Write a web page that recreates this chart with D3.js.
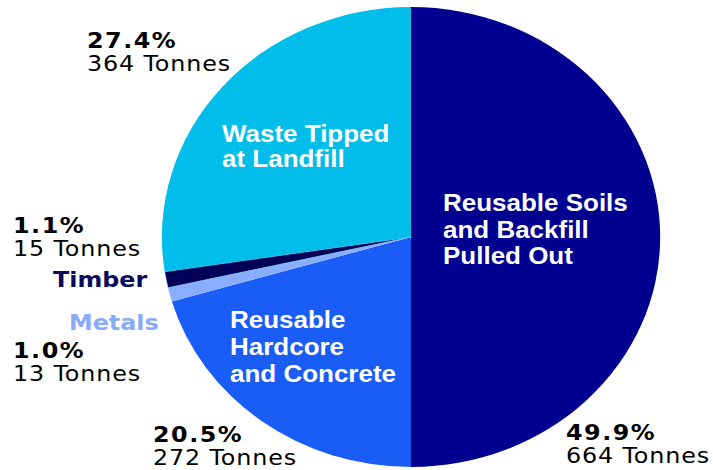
<!DOCTYPE html>
<html>
<head>
<meta charset="utf-8">
<script src="https://cdn.jsdelivr.net/npm/d3@7"></script>
<style>
  html, body { margin: 0; padding: 0; background: #fff; }
  svg { display: block; }
</style>
</head>
<body>
<div id="chart"></div>
<script>
// Waste breakdown pie — slices go clockwise from 12 o'clock

const categories = ['Reusable Soils and Backfill Pulled Out', 'Reusable Hardcore and Concrete', 'Metals', 'Timber', 'Waste Tipped at Landfill'];
const tonnes = [664, 272, 13, 15, 364];
const percents = ['49.9%', '20.5%', '1.0%', '1.1%', '27.4%'];
const sliceColors = ['#000090', '#1a5cf6', '#8aaeff', '#000058', '#00bdea'];

const width = 713;
const height = 470;
const cx = 411, cy = 237;
const radius = 230;
const stretch = 1.083; // picture is a bit wider than tall

const svg = d3.select('#chart')
  .append('svg')
  .attr('width', width)
  .attr('height', height);

const pie = d3.pie().sort(null).value(d => d.value);
const arc = d3.arc().innerRadius(0).outerRadius(radius);

const rows = categories.map((c, i) => ({ name: c, value: tonnes[i], pct: percents[i], color: sliceColors[i] }));

svg.append('g')
  .attr('transform', `translate(${cx},${cy}) scale(${stretch},1)`)
  .selectAll('path')
  .data(pie(rows))
  .join('path')
  .attr('d', arc)
  .attr('fill', d => d.data.color)
  .attr('stroke', d => d.index === 3 ? '#7fd8f4' : 'none')
  .attr('stroke-width', 0.6);

// label placement (left x, baseline y) per slice
const outsideLayout = [
  { x: 566, y: 440 },
  { x: 153, y: 442 },
  { x: 13, y: 358 },
  { x: 13, y: 233 },
  { x: 87, y: 48 }
];
const insideLayout = [
  { x: 443, y: 211, lines: ['Reusable Soils', 'and Backfill', 'Pulled Out'], step: 26.5 },
  { x: 230, y: 328, lines: ['Reusable', 'Hardcore', 'and Concrete'], step: 27 },
  { x: 69, y: 330, lines: ['Metals'], step: 0, color: '#88aaf8', dark: true },
  { x: 53, y: 287, lines: ['Timber'], step: 0, color: '#0a0a5c', dark: true },
  { x: 222, y: 142, lines: ['Waste Tipped', 'at Landfill'], step: 25 }
];

function addText(x, y, str, opts) {
  svg.append('text')
    .attr('transform', `translate(${x},${y}) scale(${stretch},1)`)
    .attr('font-family', opts.family)
    .attr('font-size', opts.size)
    .attr('font-weight', opts.weight)
    .attr('letter-spacing', opts.spacing || 0)
    .attr('fill', opts.fill)
    .text(str);
}

rows.forEach((r, i) => {
  const o = outsideLayout[i];
  addText(o.x, o.y, r.pct, { family: 'DejaVu Sans', size: 22, weight: 'bold', fill: '#000', spacing: 1.4 });
  addText(o.x, o.y + 23, `${r.value} Tonnes`, { family: 'DejaVu Sans', size: 22, weight: 'normal', fill: '#000', spacing: 0.8 });

  const L = insideLayout[i];
  L.lines.forEach((line, j) => {
    if (L.dark) {
      addText(L.x, L.y, line, { family: 'DejaVu Sans', size: 22, weight: 'bold', fill: L.color });
    } else {
      addText(L.x, L.y + j * L.step, line, { family: 'Liberation Sans', size: 24, weight: 'bold', fill: '#fff' });
    }
  });
});
</script>
</body>
</html>
